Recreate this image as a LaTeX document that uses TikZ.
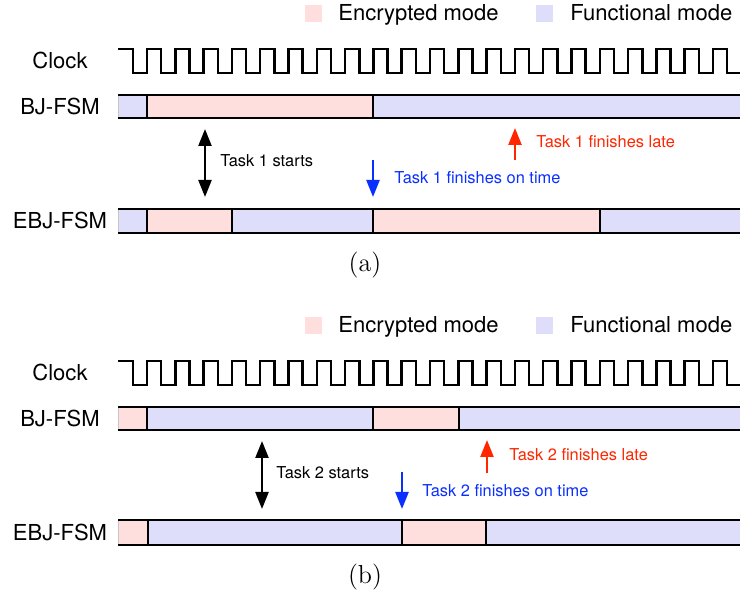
\documentclass[tikz,border=0pt]{standalone}
\usepackage{fontspec}
\setmainfont{TeX Gyre Heros}
\newfontfamily\capfont{Latin Modern Roman}
\usetikzlibrary{arrows.meta}

\definecolor{encfill}{RGB}{255,222,222}
\definecolor{funfill}{RGB}{222,222,250}
\definecolor{lateclr}{RGB}{255,38,0}
\definecolor{ontimeclr}{RGB}{10,48,255}

\tikzset{
  rowlabel/.style={anchor=base, inner sep=0pt, font=\fontsize{11}{13}\selectfont},
  legendtext/.style={anchor=base west, inner sep=0pt, font=\fontsize{11}{13}\selectfont},
  legendbox/.style={minimum width=8.5pt, minimum height=8.5pt, inner sep=0pt, draw=none},
  note/.style={anchor=base west, inner sep=0pt, font=\fontsize{8.2}{10}\selectfont},
  caption/.style={inner sep=0pt, font=\capfont\fontsize{13}{15}\selectfont},
  wave/.style={line width=1.25pt, line join=miter},
  seg/.style={draw=gray!45, line width=0.3pt},
  barline/.style={line width=1.2pt},
  tip/.style={Triangle[width=6.5pt,length=8.5pt]},
  marker/.style={line width=1.2pt, -{Triangle[width=6.5pt,length=8.5pt]}},
  twoway/.style={line width=1.2pt, {Triangle[width=6.5pt,length=8.5pt]}-{Triangle[width=6.5pt,length=8.5pt]}},
}

% clock waveform: #1 = vertical offset
\newcommand\clockwave[1]{%
  \draw[wave] (118,{49+#1})
    foreach \k in {0,...,21} {
      -- ({132.85+\k*28.3},{49+#1}) -- ({132.85+\k*28.3},{73+#1})
      -- ({147+\k*28.3},{73+#1}) -- ({147+\k*28.3},{49+#1})
    } -- (760,{49+#1});
}
% a state bar: #1 top, #2 bottom, #3 list of start/end/colour, #4 divider list
\newcommand\statebar[4]{%
  \foreach \a/\b/\c in {#3} {\fill[\c, seg] (\a,#1) rectangle (\b,#2);}
  \draw[barline] (118,#1) -- (760,#1) (118,#2) -- (760,#2);
  \foreach \d in {#4} {\draw[barline] (\d,#1) -- (\d,#2);}
}

\begin{document}
\begin{tikzpicture}[x=0.5pt,y=-0.5pt]
\useasboundingbox (0,0) rectangle (740,593);

% ---------------- panel (a) ----------------
\node[legendbox, fill=encfill] (encA) at (313.5,14) {};
\node[legendtext] (encAt) at (338,20.5) {Encrypted mode};
\node[legendbox, fill=funfill] (funA) at (544.5,14) {};
\node[legendtext] (funAt) at (570,20.5) {Functional mode};

\node[rowlabel] (clkA) at (60,69) {Clock};
\node[rowlabel] (bjA) at (60,114.5) {BJ-FSM};
\node[rowlabel] (ebjA) at (60,229) {EBJ-FSM};

\clockwave{0}
\statebar{95}{118}{118/147/funfill,147/373/encfill,373/760/funfill}{147,373}
\statebar{209}{233}{118/147/funfill,147/232/encfill,232/373/funfill,373/600/encfill,600/760/funfill}{147,232,373,600}

\coordinate (sA1) at (205,129);
\coordinate (sA2) at (205,197);
\draw[twoway] (sA1) -- (sA2);
\node[note] (startA) at (220,167) {Task 1 starts};

\coordinate (oA1) at (373,160);
\coordinate (oA2) at (373,197);
\draw[marker, ontimeclr] (oA1) -- (oA2);
\node[note, text=ontimeclr] (ontimeA) at (394,184) {Task 1 finishes on time};

\coordinate (lA1) at (515,160);
\coordinate (lA2) at (515,128);
\draw[marker, lateclr] (lA1) -- (lA2);
\node[note, text=lateclr] (lateA) at (536,148) {Task 1 finishes late};

\node[caption] (capA) at (365,265) {(a)};

% ---------------- panel (b) ----------------
\node[legendbox, fill=encfill] (encB) at (313.5,326) {};
\node[legendtext] (encBt) at (338,332.5) {Encrypted mode};
\node[legendbox, fill=funfill] (funB) at (544.5,326) {};
\node[legendtext] (funBt) at (570,332.5) {Functional mode};

\node[rowlabel] (clkB) at (60,381) {Clock};
\node[rowlabel] (bjB) at (60,426.5) {BJ-FSM};
\node[rowlabel] (ebjB) at (60,540.5) {EBJ-FSM};

\clockwave{312}
\statebar{407}{430}{118/147/encfill,147/373/funfill,373/459/encfill,459/760/funfill}{147,373,459}
\statebar{520}{545}{118/148/encfill,148/402/funfill,402/486/encfill,486/760/funfill}{148,402,486}

\coordinate (sB1) at (262,441);
\coordinate (sB2) at (262,509);
\draw[twoway] (sB1) -- (sB2);
\node[note] (startB) at (276,479) {Task 2 starts};

\coordinate (oB1) at (402,472);
\coordinate (oB2) at (402,509);
\draw[marker, ontimeclr] (oB1) -- (oB2);
\node[note, text=ontimeclr] (ontimeB) at (422,497) {Task 2 finishes on time};

\coordinate (lB1) at (487,473);
\coordinate (lB2) at (487,440);
\draw[marker, lateclr] (lB1) -- (lB2);
\node[note, text=lateclr] (lateB) at (509,461) {Task 2 finishes late};

\node[caption] (capB) at (365,577) {(b)};
\end{tikzpicture}
\end{document}
